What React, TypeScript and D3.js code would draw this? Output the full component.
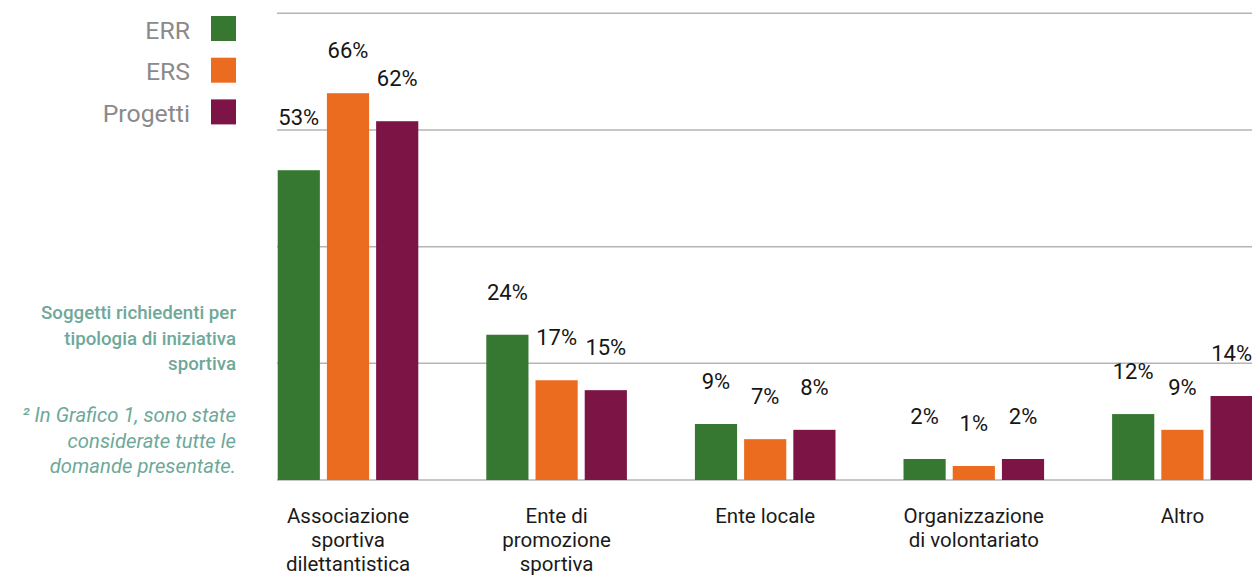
import React from "react";
import * as d3 from "d3";

const categories = ["Associazione sportiva dilettantistica", "Ente di promozione sportiva", "Ente locale", "Organizzazione di volontariato", "Altro"];
const categoryLines = [
  ["Associazione", "sportiva", "dilettantistica"],
  ["Ente di", "promozione", "sportiva"],
  ["Ente locale"],
  ["Organizzazione", "di volontariato"],
  ["Altro"],
];
const seriesNames = ["ERR", "ERS", "Progetti"];
const seriesColors = ["#367831", "#ec6c1f", "#7c1545"];
// bar heights (%)
const errValues = [53.1, 24.9, 9.6, 3.6, 11.3];
const ersValues = [66.3, 17.1, 7.0, 2.4, 8.6];
const progettiValues = [61.5, 15.4, 8.6, 3.6, 14.4];
// printed labels
const errLabels = ["53%", "24%", "9%", "2%", "12%"];
const ersLabels = ["66%", "17%", "7%", "1%", "9%"];
const progettiLabels = ["62%", "15%", "8%", "2%", "14%"];
const gridTicks = [0, 20, 40, 60, 80];
const titleLines = ["Soggetti richiedenti per", "tipologia di iniziativa", "sportiva"];
const noteLines = ["² In Grafico 1, sono state", "considerate tutte le", "domande presentate."];

const W = 1252;
const H = 575;
const FONT = "Roboto, 'Noto Sans', sans-serif";

export default function App() {
  const values = [errValues, ersValues, progettiValues];
  const labels = [errLabels, ersLabels, progettiLabels];

  const x0 = d3.scaleBand<string>().domain(categories).range([277.7, 1252.7]).paddingInner(0.326).paddingOuter(0);
  const x1 = d3.scaleBand<string>().domain(seriesNames).range([0, x0.bandwidth()]).paddingInner(0.143).paddingOuter(0);
  const y = d3.scaleLinear().domain([0, 80]).range([480, 13.3]);

  const gridYs = gridTicks.map((t) => y(t));

  const labelBaseline = (v: number) => {
    let b = y(v) - 35;
    for (const g of gridYs) {
      if (g > b - 14.5 && g < b + 1) b = g - 5;
    }
    return b;
  };

  return (
    <svg width={W} height={H} style={{ position: "absolute", left: 0, top: 0, background: "#fff" }} fontFamily={FONT}>
      {/* gridlines */}
      {gridTicks.map((t) => (
        <line key={t} x1={277} x2={W} y1={y(t)} y2={y(t)} stroke="#b5b5b5" strokeWidth={1.5} />
      ))}

      {/* bars */}
      {categories.map((c, ci) => (
        <g key={c} transform={`translate(${x0(c)},0)`}>
          {seriesNames.map((s, si) => {
            const v = values[si][ci];
            const bx = x1(s)!;
            return (
              <g key={s}>
                <rect x={bx} y={y(v)} width={x1.bandwidth()} height={y(0) - y(v)} fill={seriesColors[si]} />
                <text x={bx + x1.bandwidth() / 2} y={labelBaseline(v)} textAnchor="middle" fontSize={22} fill="#151515">
                  {labels[si][ci]}
                </text>
              </g>
            );
          })}
        </g>
      ))}

      {/* category labels */}
      {categories.map((c, ci) => (
        <text key={c} x={x0(c)! + x0.bandwidth() / 2} y={523} textAnchor="middle" fontSize={20.5} fill="#1a1a1a">
          {categoryLines[ci].map((l, li) => (
            <tspan key={li} x={x0(c)! + x0.bandwidth() / 2} dy={li === 0 ? 0 : 24}>
              {l}
            </tspan>
          ))}
        </text>
      ))}

      {/* legend */}
      {seriesNames.map((s, si) => (
        <g key={s} transform={`translate(0,${16 + si * 41.7})`}>
          <text x={190} y={22.5} textAnchor="end" fontSize={24.8} fill="#8a8a8a">
            {s}
          </text>
          <rect x={211} y={0} width={25} height={25} fill={seriesColors[si]} />
        </g>
      ))}

      {/* title */}
      <text x={236} y={319} textAnchor="end" fontSize={18.7} fontWeight={500} fill="#6ea899">
        {titleLines.map((l, i) => (
          <tspan key={i} x={236} dy={i === 0 ? 0 : 25.5}>
            {l}
          </tspan>
        ))}
      </text>
      <text x={236} y={422} textAnchor="end" fontSize={20.3} fontStyle="italic" fill="#6ea899">
        {noteLines.map((l, i) => (
          <tspan key={i} x={236} dy={i === 0 ? 0 : 25.5}>
            {l}
          </tspan>
        ))}
      </text>
    </svg>
  );
}
